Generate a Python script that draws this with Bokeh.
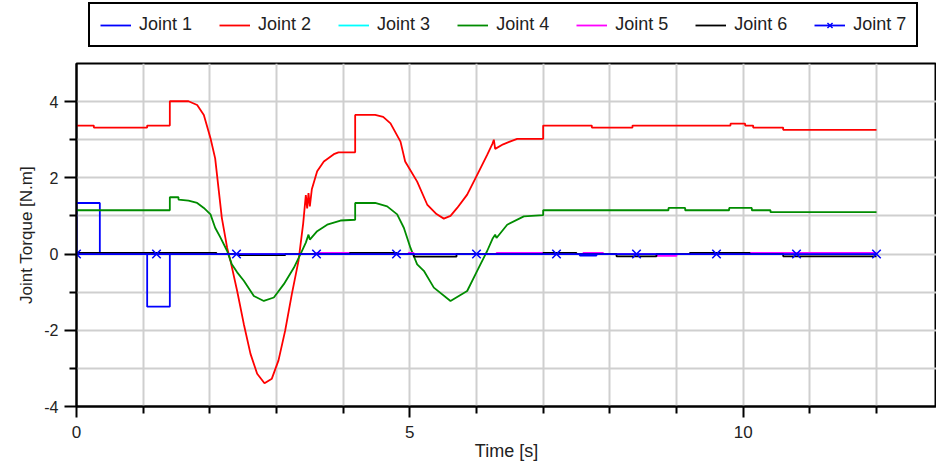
from bokeh.plotting import figure
from bokeh.layouts import column
from bokeh.models import FixedTicker, Legend, LegendItem, Range1d
from bokeh.embed import file_html
from bokeh.resources import INLINE

# ---------------- data ----------------
series_names = ["Joint 1", "Joint 2", "Joint 3", "Joint 4", "Joint 5", "Joint 6", "Joint 7"]
series_colors = ["#0000ff", "#ff0000", "#00ffff", "#008c00", "#ff00ff", "#000000", "#0000ff"]

j1_t = [0.00, 0.00, 0.35, 0.35, 1.06, 1.06, 1.40, 1.40, 7.55, 7.55, 7.80, 7.80, 12.00]
j1_v = [0.00, 1.34, 1.34, 0.00, 0.00, -1.38, -1.38, 0.00, 0.00, -0.04, -0.04, 0.00, 0.00]

j2_t = [0.00, 0.26, 0.26, 1.06, 1.06, 1.40, 1.40, 1.68, 1.81, 1.91, 2.01, 2.08, 2.13, 2.18,
        2.26, 2.31, 2.41, 2.51, 2.61, 2.71, 2.82, 2.93, 3.03, 3.13, 3.23, 3.33, 3.40, 3.44,
        3.46, 3.48, 3.50, 3.53, 3.61, 3.71, 3.86, 3.93, 4.18, 4.18, 4.48, 4.60, 4.71, 4.86,
        4.93, 5.11, 5.26, 5.40, 5.51, 5.61, 5.71, 5.86, 6.01, 6.16, 6.24, 6.26, 6.28, 6.40,
        6.50, 6.61, 7.00, 7.00, 7.73, 7.73, 8.34, 8.34, 9.81, 9.81, 10.03, 10.03, 10.15,
        10.15, 10.60, 10.60, 12.00]
j2_v = [3.37, 3.37, 3.32, 3.32, 3.37, 3.37, 4.01, 4.01, 3.91, 3.65, 3.04, 2.51, 1.73, 0.95,
        0.16, -0.18, -0.97, -1.84, -2.62, -3.14, -3.39, -3.27, -2.79, -2.01, -1.05, -0.18, 0.80, 1.55,
        1.20, 1.60, 1.25, 1.70, 2.17, 2.43, 2.62, 2.67, 2.67, 3.65, 3.65, 3.60, 3.43, 2.95,
        2.43, 1.90, 1.30, 1.05, 0.93, 1.00, 1.21, 1.56, 2.08, 2.60, 2.90, 3.00, 2.76, 2.88,
        2.95, 3.02, 3.02, 3.37, 3.37, 3.32, 3.32, 3.37, 3.37, 3.42, 3.42, 3.37, 3.37,
        3.32, 3.32, 3.26, 3.26]

j3_t = [0.00, 12.00]
j3_v = [0.00, 0.00]

j4_t = [0.00, 1.40, 1.40, 1.53, 1.53, 1.68, 1.81, 1.91, 2.01, 2.08, 2.16, 2.26, 2.33, 2.41,
        2.51, 2.66, 2.81, 2.96, 3.11, 3.26, 3.36, 3.44, 3.48, 3.50, 3.61, 3.76, 3.96, 4.18,
        4.18, 4.48, 4.66, 4.81, 4.91, 5.01, 5.11, 5.21, 5.36, 5.61, 5.86, 6.01, 6.16, 6.24,
        6.28, 6.30, 6.46, 6.71, 7.00, 7.00, 8.88, 8.88, 9.13, 9.13, 9.79, 9.79, 10.13, 10.13,
        10.41, 10.41, 12.00]
j4_v = [1.15, 1.15, 1.49, 1.49, 1.43, 1.40, 1.34, 1.21, 1.04, 0.69, 0.43, 0.08, -0.27, -0.48,
        -0.70, -1.10, -1.23, -1.14, -0.79, -0.36, 0.00, 0.30, 0.51, 0.38, 0.60, 0.77, 0.88, 0.90,
        1.34, 1.34, 1.25, 1.04, 0.69, 0.16, -0.27, -0.44, -0.88, -1.23, -0.97, -0.44, 0.08, 0.40,
        0.51, 0.42, 0.77, 0.99, 1.02, 1.15, 1.15, 1.21, 1.21, 1.15, 1.15, 1.21, 1.21, 1.15,
        1.15, 1.10, 1.10]

j5_t = [0.00, 3.60, 3.60, 4.10, 4.10, 4.98, 4.98, 5.06, 5.06, 6.30, 6.30, 7.00, 7.00, 7.60,
        7.60, 7.90, 7.90, 8.70, 8.70, 9.00, 9.00, 10.10, 10.10, 12.00]
j5_v = [0.00, 0.00, 0.03, 0.03, 0.00, 0.00, 0.03, 0.03, 0.00, 0.00, 0.03, 0.03, 0.00, 0.00,
        0.03, 0.03, 0.00, 0.00, -0.05, -0.05, 0.00, 0.00, 0.03, 0.03]

j6_t = [0.00, 2.10, 2.10, 2.43, 2.43, 3.13, 3.13, 4.10, 4.10, 4.80, 4.80, 5.06, 5.06, 5.70,
        5.70, 7.00, 7.00, 7.50, 7.50, 8.10, 8.10, 8.70, 8.70, 9.20, 9.20, 10.10, 10.10, 10.60,
        10.60, 12.00]
j6_v = [0.03, 0.03, 0.00, 0.00, -0.03, -0.03, 0.00, 0.00, 0.03, 0.03, 0.00, 0.00, -0.07, -0.07,
        0.00, 0.00, 0.03, 0.03, 0.00, 0.00, -0.06, -0.06, 0.00, 0.00, 0.03, 0.03, 0.00, 0.00,
        -0.06, -0.06]

j7_t = [0.00, 12.00]
j7_v = [0.00, 0.00]
j7_marker_t = [0.0, 1.2, 2.4, 3.6, 4.8, 6.0, 7.2, 8.4, 9.6, 10.8, 12.0]
j7_marker_v = [0.0, 0.0, 0.0, 0.0, 0.0, 0.0, 0.0, 0.0, 0.0, 0.0, 0.0]

x_labeled_ticks = [0, 5, 10]
x_minor_ticks = [1, 2, 3, 4, 6, 7, 8, 9, 11, 12]
x_grid_ticks = [0, 1, 2, 3, 4, 5, 6, 7, 8, 9, 10, 11, 12]
y_labeled_ticks = [-4, -2, 0, 2, 4]
y_tick_labels = ["-4", "-2", "0", "2", "4"]
y_minor_ticks = [-3, -1, 1, 3]
y_grid_ticks = [-4, -3, -2, -1, 0, 1, 2, 3, 4]

# ---------------- styles ----------------
FONT = "Liberation Sans"
TXT = "#222222"
LW = 1.8
LEG_H = 50

series = [(j1_t, j1_v), (j2_t, j2_v), (j3_t, j3_v), (j4_t, j4_v),
          (j5_t, j5_v), (j6_t, j6_v), (j7_t, j7_v)]

# ---------------- main figure ----------------
p = figure(width=936, height=467 - LEG_H, output_backend="svg", toolbar_location=None,
           x_range=Range1d(0, 12.9), y_range=Range1d(-4, 5),
           min_border_left=76, min_border_right=0, min_border_top=13, min_border_bottom=61,
           background_fill_color="white", border_fill_color="white")
p.outline_line_color = "black"
p.outline_line_width = 2

for (t, v), c in zip(series, series_colors):
    p.line(t, v, line_color=c, line_width=LW)
p.scatter(j7_marker_t, j7_marker_v, marker="x", size=12, line_color=series_colors[6], line_width=1.5)

p.xaxis.ticker = FixedTicker(ticks=x_labeled_ticks, minor_ticks=x_minor_ticks)
p.yaxis.ticker = FixedTicker(ticks=y_labeled_ticks, minor_ticks=y_minor_ticks)
p.yaxis.major_label_overrides = {t: s for t, s in zip(y_labeled_ticks, y_tick_labels)}
p.xgrid.ticker = FixedTicker(ticks=x_grid_ticks)
p.ygrid.ticker = FixedTicker(ticks=y_grid_ticks)
for g in (p.xgrid, p.ygrid):
    g.grid_line_color = "#cfcfcf"
    g.grid_line_width = 2

for ax in (p.xaxis[0], p.yaxis[0]):
    ax.axis_line_color = "black"
    ax.axis_line_width = 2
    ax.major_tick_line_color = "black"
    ax.minor_tick_line_color = "black"
    ax.major_tick_line_width = 2
    ax.minor_tick_line_width = 2
    ax.major_tick_in = 0
    ax.minor_tick_in = 0
    ax.minor_tick_out = 7
    ax.major_label_text_font = FONT
    ax.major_label_text_color = TXT
    ax.axis_label_text_font = FONT
    ax.axis_label_text_font_style = "normal"
    ax.axis_label_text_color = TXT

p.xaxis.major_label_text_font_size = "17px"
p.yaxis.major_label_text_font_size = "16px"
p.xaxis.axis_label_text_font_size = "18px"
p.yaxis.axis_label_text_font_size = "17px"
p.xaxis.major_tick_out = 11
p.yaxis.major_tick_out = 12
p.xaxis.major_label_standoff = 8
p.yaxis.major_label_standoff = 6
p.xaxis.axis_label = "Time [s]"
p.yaxis.axis_label = "Joint Torque [N.m]"
p.xaxis.axis_label_standoff = 0
p.yaxis.axis_label_standoff = 5

# ---------------- legend strip (same series, ranges placed away so only the legend shows) ----
lf = figure(width=936, height=LEG_H, output_backend="svg", toolbar_location=None,
            x_range=Range1d(100, 101), y_range=Range1d(100, 101),
            x_axis_type=None, y_axis_type=None, min_border=0,
            background_fill_color="white", border_fill_color="white")
lf.outline_line_color = None
lf.grid.visible = False

groups = []
for (t, v), c in zip(series, series_colors):
    groups.append([lf.line(t, v, line_color=c, line_width=LW)])
groups[6].append(lf.scatter(j7_marker_t, j7_marker_v, marker="x", size=14,
                            line_color=series_colors[6], line_width=1.5))

items = [LegendItem(label=n, renderers=rs) for n, rs in zip(series_names, groups)]
# the strip's frame is aligned with the main frame (starts at x=76)
legend = Legend(items=items, orientation="horizontal", location=(12, 3), margin=0,
                padding=10, spacing=27, glyph_width=31, glyph_height=18,
                label_height=18, label_standoff=8,
                label_text_font=FONT, label_text_font_size="18px", label_text_color=TXT,
                border_line_color="black", border_line_width=2, border_line_alpha=1.0,
                background_fill_color="white", background_fill_alpha=1.0)
lf.add_layout(legend)

layout = column(lf, p, spacing=0)
open("out.html", "w").write(file_html(layout, INLINE))
